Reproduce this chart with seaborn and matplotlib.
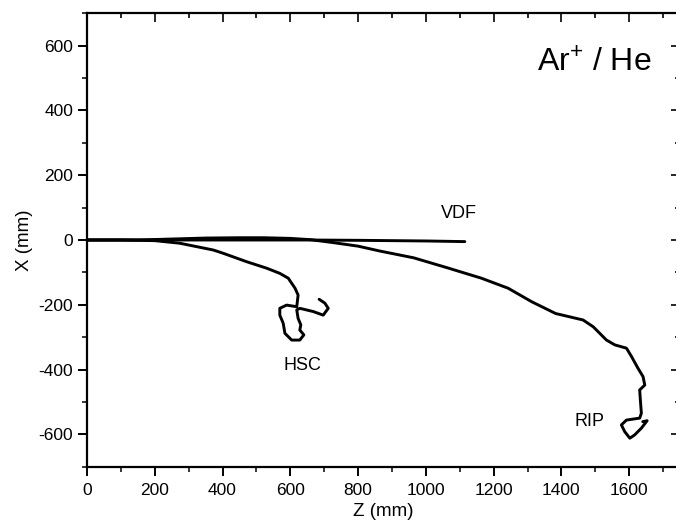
import numpy as np
import pandas as pd
import seaborn as sns
from matplotlib import pyplot as plt
from matplotlib.ticker import MultipleLocator

# trajectories (Z, X in mm)
vdf_z = [0, 100, 200, 300, 400, 470, 550, 650, 800, 1000, 1115]
vdf_x = [0, 0, 0, 0, 0, 0, 0, 0, -1, -3, -5]

hsc_z = [0, 100, 200, 274, 373, 402, 471, 530, 569, 594, 614, 623, 619,
         589, 569, 569, 579, 584, 604, 628, 640, 628, 631, 623, 619, 628,
         668, 697, 712, 702, 685]
hsc_x = [0, 0, -2, -10, -31, -41, -67, -87, -103, -118, -149, -170, -206,
         -201, -211, -232, -257, -288, -309, -309, -293, -278, -262, -242,
         -216, -211, -221, -232, -211, -195, -183]

rip_z = [0, 150, 250, 350, 450, 520, 600, 660, 726, 800, 864, 964, 1064,
         1164, 1243, 1313, 1383, 1464, 1494, 1533, 1558, 1592, 1607, 1626,
         1641, 1646, 1631, 1633, 1636, 1631, 1592, 1577, 1587, 1602, 1616,
         1636, 1653, 1640]
rip_x = [0, 0, 3, 6, 7, 7, 5, 1, -8, -19, -34, -55, -86, -118, -149, -191,
         -227, -247, -268, -309, -324, -334, -360, -396, -422, -448, -463,
         -494, -535, -550, -556, -571, -592, -612, -602, -581, -558, -561]

labels = ["VDF", "HSC", "RIP"]
label_z = [1098, 636, 1484]
label_x = [82, -386, -561]

df = pd.concat([
    pd.DataFrame({"Z": vdf_z, "X": vdf_x, "run": "VDF"}),
    pd.DataFrame({"Z": hsc_z, "X": hsc_x, "run": "HSC"}),
    pd.DataFrame({"Z": rip_z, "X": rip_x, "run": "RIP"}),
])

sns.set_theme(style="ticks")
plt.rcParams['font.family'] = ['Liberation Sans', 'DejaVu Sans']
plt.rcParams['axes.unicode_minus'] = False
plt.rcParams['text.color'] = 'black'
plt.rcParams['axes.labelcolor'] = 'black'

fig = plt.figure(figsize=(6.76, 5.23), dpi=100)
ax = fig.add_axes([87 / 676, 56.3 / 523, 593 / 676, 453.4 / 523])

sns.lineplot(data=df, x="Z", y="X", units="run", estimator=None, sort=False,
             color="black", linewidth=2.1, ax=ax)

for t, z, x in zip(labels, label_z, label_x):
    ax.text(z, x, t, ha="center", va="center", fontsize=13)
ax.text(1496, 520, r"Ar$^{\mathregular{+}}$ / He", ha="center", va="baseline",
        fontsize=23)

ax.set_xlim(0, 1750)
ax.set_ylim(-700, 700)
ax.set_xticks(np.arange(0, 1601, 200))
ax.xaxis.set_minor_locator(MultipleLocator(100))
ax.yaxis.set_major_locator(MultipleLocator(200))
ax.yaxis.set_minor_locator(MultipleLocator(100))
ax.tick_params(which="major", direction="out", length=6.5, width=1.4,
               labelsize=12.5, colors="black")
ax.tick_params(which="minor", direction="out", length=3.5, width=1.3)
ax.tick_params(axis="x", which="major", pad=5)
ax.set_xlabel("Z (mm)", fontsize=13.5, labelpad=4)
ax.set_ylabel("X (mm)", fontsize=13.5, labelpad=4)
for s in ax.spines.values():
    s.set_linewidth(1.6)
    s.set_color("black")

# mirrored inward ticks on top and right
top = ax.secondary_xaxis("top")
top.xaxis.set_major_locator(MultipleLocator(200))
top.xaxis.set_minor_locator(MultipleLocator(100))
top.tick_params(which="both", direction="in", labeltop=False, width=1.4)
top.tick_params(which="major", length=6.5)
top.tick_params(which="minor", length=3.5)
right = ax.secondary_yaxis("right")
right.yaxis.set_major_locator(MultipleLocator(200))
right.yaxis.set_minor_locator(MultipleLocator(100))
right.tick_params(which="both", direction="in", labelright=False, width=1.4)
right.tick_params(which="major", length=6.5)
right.tick_params(which="minor", length=3.5)

fig.savefig("out.png", dpi=100)
